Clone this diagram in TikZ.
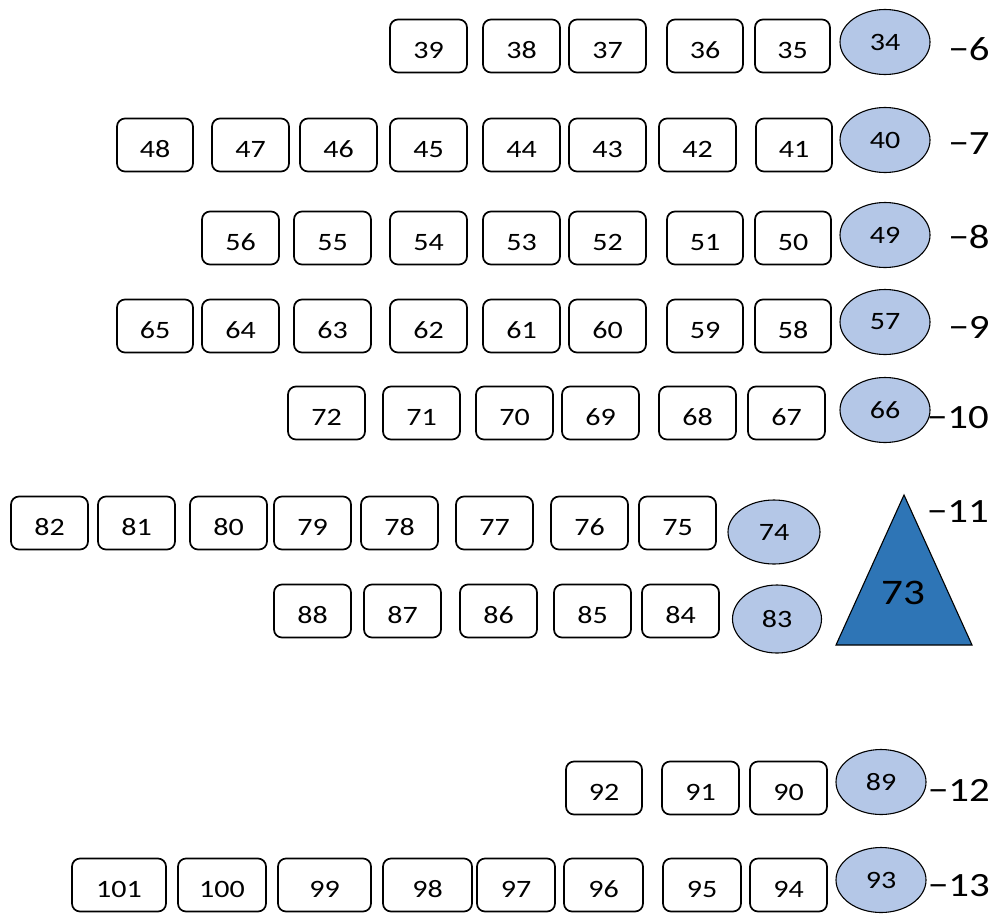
\documentclass[tikz,border=0pt]{standalone}
\usepackage{fontspec}
\setmainfont{Carlito}[FakeStretch=1.2]
\usetikzlibrary{shapes.geometric}
\definecolor{ovalfill}{HTML}{B4C7E7}
\definecolor{trifill}{HTML}{2E75B6}
\tikzset{
  box/.style={draw=black, line width=1.7pt, rounded corners=8pt, minimum height=53pt, inner sep=0pt,
    text height=24pt, text depth=0pt, font=\fontsize{25}{27}\selectfont},
  oval/.style={ellipse, draw=black, line width=1.1pt, fill=ovalfill, minimum width=90pt, minimum height=65pt, inner sep=0pt, font=\fontsize{25}{27}\selectfont},
  lvl/.style={inner sep=0pt, font=\fontsize{34}{36}\selectfont},
}
\begin{document}
\begin{tikzpicture}[x=1pt,y=-1pt]
\useasboundingbox (0,0) rectangle (998,916);
% row -6
\foreach \n/\a/\b in {39/390/467,38/483/560,37/569/646,36/667/743,35/755/830}
  \node[box, minimum width={(\b-\a)*1pt}] (b\n) at ({(\a+\b)/2},46) {\n};
\node[oval] (e34) at (885,42) {34};
\node[lvl] (l6) at (969,49) {−6};
% row -7
\foreach \n/\a/\b in {48/117/193,47/212/289,46/300/377,45/390/467,44/483/560,43/569/646,42/659/736,41/756/832}
  \node[box, minimum width={(\b-\a)*1pt}] (b\n) at ({(\a+\b)/2},145) {\n};
\node[oval] (e40) at (885,140) {40};
\node[lvl] (l7) at (969,144) {−7};
% row -8
\foreach \n/\a/\b in {56/202/279,55/294/371,54/390/467,53/483/560,52/569/646,51/667/743,50/755/831}
  \node[box, minimum width={(\b-\a)*1pt}] (b\n) at ({(\a+\b)/2},238) {\n};
\node[oval] (e49) at (885,235) {49};
\node[lvl] (l8) at (969,237) {−8};
% row -9
\foreach \n/\a/\b in {65/117/193,64/202/279,63/294/371,62/390/467,61/483/560,60/569/646,59/667/743,58/755/831}
  \node[box, minimum width={(\b-\a)*1pt}] (b\n) at ({(\a+\b)/2},326) {\n};
\node[oval] (e57) at (885,322) {57};
\node[lvl] (l9) at (969,327) {−9};
% row -10
\foreach \n/\a/\b in {72/288/365,71/383/460,70/476/553,69/562/639,68/659/736,67/748/825}
  \node[box, minimum width={(\b-\a)*1pt}] (b\n) at ({(\a+\b)/2},413) {\n};
\node[oval] (e66) at (885,410) {66};
\node[lvl] (l10) at (958,418) {−10};
% row -11 (upper)
\foreach \n/\a/\b in {82/11/88,81/98/175,80/190/267,79/274/351,78/361/438,77/456/533,76/551/628,75/639/716}
  \node[box, minimum width={(\b-\a)*1pt}] (b\n) at ({(\a+\b)/2},523) {\n};
\node[oval, minimum width=92pt, minimum height=64pt] (e74) at (774,532) {74};
% row -11 (lower)
\foreach \n/\a/\b in {88/274/351,87/364/441,86/460/537,85/554/631,84/642/719}
  \node[box, minimum width={(\b-\a)*1pt}] (b\n) at ({(\a+\b)/2},611) {\n};
\node[oval, minimum width=89pt, minimum height=68pt] (e83) at (777,619) {83};
% triangle 73
\coordinate (tA) at (904,495);
\coordinate (tB) at (836,645);
\coordinate (tC) at (972,645);
\draw[fill=trifill, line width=1.1pt, line join=miter] (tA) -- (tB) -- (tC) -- cycle;
\node[lvl, font=\fontsize{36}{38}\selectfont] (t73) at (903,593) {73};
\node[lvl] (l11) at (958,512) {−11};
% row -12
\foreach \n/\a/\b in {92/566/642,91/662/739,90/750/827}
  \node[box, minimum width={(\b-\a)*1pt}] (b\n) at ({(\a+\b)/2},788) {\n};
\node[oval] (e89) at (881,782) {89};
\node[lvl] (l12) at (959,790) {−12};
% row -13
\foreach \n/\a/\b in {101/72/166,100/178/266,99/278/371,98/383/472,97/477/555,96/564/643,95/663/741,94/750/827}
  \node[box, minimum width={(\b-\a)*1pt}] (b\n) at ({(\a+\b)/2},885) {\n};
\node[oval] (e93) at (881,880) {93};
\node[lvl] (l13) at (959,886) {−13};
\end{tikzpicture}
\end{document}
